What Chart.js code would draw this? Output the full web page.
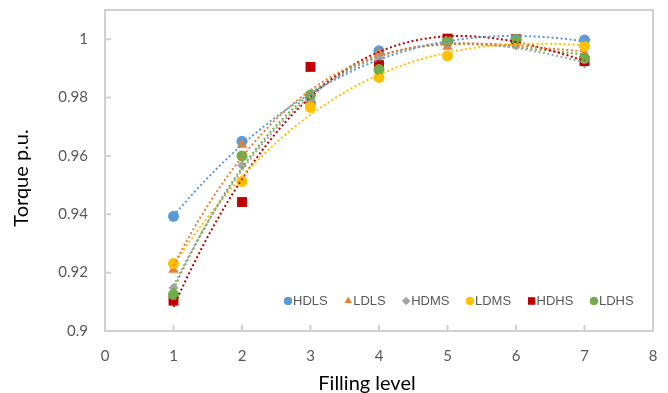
<!DOCTYPE html>
<html>
<head>
<meta charset="utf-8">
<script src="https://cdn.jsdelivr.net/npm/chart.js@4.4.0/dist/chart.umd.min.js"></script>
<style>
  html, body { margin: 0; padding: 0; background: #fff; }
  #wrap { width: 668px; height: 393px; position: relative; }
</style>
</head>
<body>
<div id="wrap"><canvas id="myChart"></canvas></div>
<script>
// filling levels and measured torque (p.u.) per configuration
var niveis = [1, 2, 3, 4, 5, 6, 7];
var hdls = [0.9393, 0.9650, 0.9782, 0.9960, 0.9990, 1.0000, 0.9997];
var ldls = [0.9210, 0.9638, 0.9788, 0.9951, 0.9974, 0.9998, 0.9950];
var hdms = [0.9148, 0.9567, 0.9795, 0.9935, 0.9985, 0.9978, 0.9917];
var ldms = [0.9231, 0.9512, 0.9766, 0.9869, 0.9943, 0.9995, 0.9976];
var hdhs = [0.9104, 0.9442, 0.9905, 0.9911, 1.0002, 1.0000, 0.9925];
var ldhs = [0.9125, 0.9600, 0.9809, 0.9896, 0.9994, 1.0000, 0.9934];

var nomes = ['HDLS', 'LDLS', 'HDMS', 'LDMS', 'HDHS', 'LDHS'];
var xTicks = [0, 1, 2, 3, 4, 5, 6, 7, 8];
var yTicks = [0.9, 0.92, 0.94, 0.96, 0.98, 1];

var series = [hdls, ldls, hdms, ldms, hdhs, ldhs];
var cores = ['#5B9BD5', '#ED7D31', '#A5A5A5', '#FFC000', '#C00000', '#70AD47'];
var estilos = ['circle', 'triangle', 'rectRot', 'circle', 'rect', 'circle'];
var raios = [5.5, 6, 5, 5.5, 7, 5.5];
var grauTendencia = 3;

// least squares polynomial fit (same idea as the excel trendline)
function ajustePoli(xs, ys, grau) {
    var n = grau + 1;
    var m = [];
    for (var r = 0; r < n; r++) {
        m.push([]);
        for (var c = 0; c <= n; c++) m[r].push(0);
    }
    for (var i = 0; i < xs.length; i++) {
        for (var r1 = 0; r1 < n; r1++) {
            for (var c1 = 0; c1 < n; c1++) m[r1][c1] += Math.pow(xs[i], r1 + c1);
            m[r1][n] += Math.pow(xs[i], r1) * ys[i];
        }
    }
    for (var c2 = 0; c2 < n; c2++) {
        for (var r2 = c2 + 1; r2 < n; r2++) {
            var f = m[r2][c2] / m[c2][c2];
            for (var j = c2; j <= n; j++) m[r2][j] -= f * m[c2][j];
        }
    }
    var a = [];
    for (var k = 0; k < n; k++) a.push(0);
    for (var r3 = n - 1; r3 >= 0; r3--) {
        var soma = m[r3][n];
        for (var j2 = r3 + 1; j2 < n; j2++) soma -= m[r3][j2] * a[j2];
        a[r3] = soma / m[r3][r3];
    }
    return a;
}

function avalia(a, x) {
    var y = 0;
    for (var k = a.length - 1; k >= 0; k--) y = y * x + a[k];
    return y;
}

var datasets = [];
series.forEach(function (valores, i) {
    var a = ajustePoli(niveis, valores, grauTendencia);
    var linha = [];
    for (var x = niveis[0]; x <= niveis[niveis.length - 1] + 1e-9; x += 0.05) {
        linha.push({ x: x, y: avalia(a, x) });
    }
    datasets.push({
        label: nomes[i] + ' trend',
        data: linha,
        showLine: true,
        borderColor: cores[i],
        borderWidth: 2,
        borderDash: [2, 2.5],
        pointRadius: 0,
        fill: false,
        order: 1
    });
});
series.forEach(function (valores, i) {
    datasets.push({
        label: nomes[i],
        data: valores.map(function (v, k) { return { x: niveis[k], y: v }; }),
        backgroundColor: cores[i],
        borderColor: cores[i],
        borderWidth: 0,
        pointStyle: estilos[i],
        pointRadius: raios[i],
        pointHoverRadius: raios[i],
        showLine: false,
        order: 20 - i
    });
});

var corEixo = '#D0D0D0';
var corTexto = '#595959';

// frame around the plot area with short inner tick marks, titles and legend
var moldura = {
    id: 'moldura',
    beforeDatasetsDraw: function (chart) {
        var ctx = chart.ctx, ca = chart.chartArea;
        var sx = chart.scales.x, sy = chart.scales.y;
        ctx.save();
        ctx.strokeStyle = corEixo;
        ctx.lineWidth = 2;
        ctx.strokeRect(ca.left, ca.top, ca.right - ca.left, ca.bottom - ca.top);
        ctx.beginPath();
        xTicks.forEach(function (v) {
            var px = sx.getPixelForValue(v);
            ctx.moveTo(px, ca.bottom);
            ctx.lineTo(px, ca.bottom - 6);
        });
        yTicks.forEach(function (v) {
            var py = sy.getPixelForValue(v);
            ctx.moveTo(ca.left, py);
            ctx.lineTo(ca.left + 6, py);
        });
        ctx.stroke();
        ctx.restore();
    },
    afterDraw: function (chart) {
        var ctx = chart.ctx;
        ctx.save();
        ctx.fillStyle = '#000';
        ctx.font = '20px Lato';
        ctx.textAlign = 'center';
        ctx.textBaseline = 'middle';
        ctx.fillText('Filling level', 367, 384);
        ctx.translate(22, 178);
        ctx.rotate(-Math.PI / 2);
        ctx.fillText('Torque p.u.', 0, 0);
        ctx.restore();

        // legend inside the plot area
        ctx.save();
        ctx.font = '13px "Liberation Sans", Arial';
        ctx.textBaseline = 'middle';
        ctx.textAlign = 'left';
        var x = 288, y = 301;
        nomes.forEach(function (nome, i) {
            ctx.fillStyle = cores[i];
            Chart.helpers.drawPoint(ctx, { pointStyle: estilos[i], radius: estilos[i] === 'rect' ? 5 : 4, rotation: 0 }, x, y);
            ctx.fill();
            ctx.fillStyle = corTexto;
            ctx.fillText(nome, x + 5, y);
            x += 5 + ctx.measureText(nome).width + 20.5;
        });
        ctx.restore();
    }
};

const config = {
    type: 'scatter',
    data: { datasets: datasets },
    options: {
        responsive: true,
        maintainAspectRatio: false,
        animation: false,
        devicePixelRatio: 1,
        layout: { padding: { top: 10, right: 15, left: 0, bottom: 0 } },
        plugins: {
            legend: { display: false },
            tooltip: { enabled: false }
        },
        scales: {
            x: {
                type: 'linear',
                bounds: 'data',
                min: 0,
                max: 8,
                grid: { display: false, drawTicks: false },
                border: { display: false },
                afterBuildTicks: function (scale) {
                    scale.ticks = xTicks.map(function (v) { return { value: v }; });
                },
                afterFit: function (scale) {
                    scale.height = 62;
                    scale.paddingLeft = 0; scale.paddingRight = 0;
                },
                ticks: {
                    padding: 16,
                    color: corTexto,
                    font: { family: 'Lato', size: 15 },
                    callback: function (v) { return String(v); }
                }
            },
            y: {
                type: 'linear',
                bounds: 'data',
                min: 0.9,
                max: 1.01,
                grid: { display: false, drawTicks: false },
                border: { display: false },
                afterBuildTicks: function (scale) {
                    scale.ticks = yTicks.map(function (v) { return { value: v }; });
                },
                afterFit: function (scale) {
                    scale.width = 105;
                    scale.paddingTop = 0; scale.paddingBottom = 0;
                },
                ticks: {
                    padding: 17,
                    color: corTexto,
                    font: { family: 'Lato', size: 15 },
                    callback: function (v) { return String(+v.toFixed(2)); }
                }
            }
        }
    },
    plugins: [moldura]
};

let myChart = new Chart(document.getElementById('myChart'), config);
</script>
</body>
</html>
